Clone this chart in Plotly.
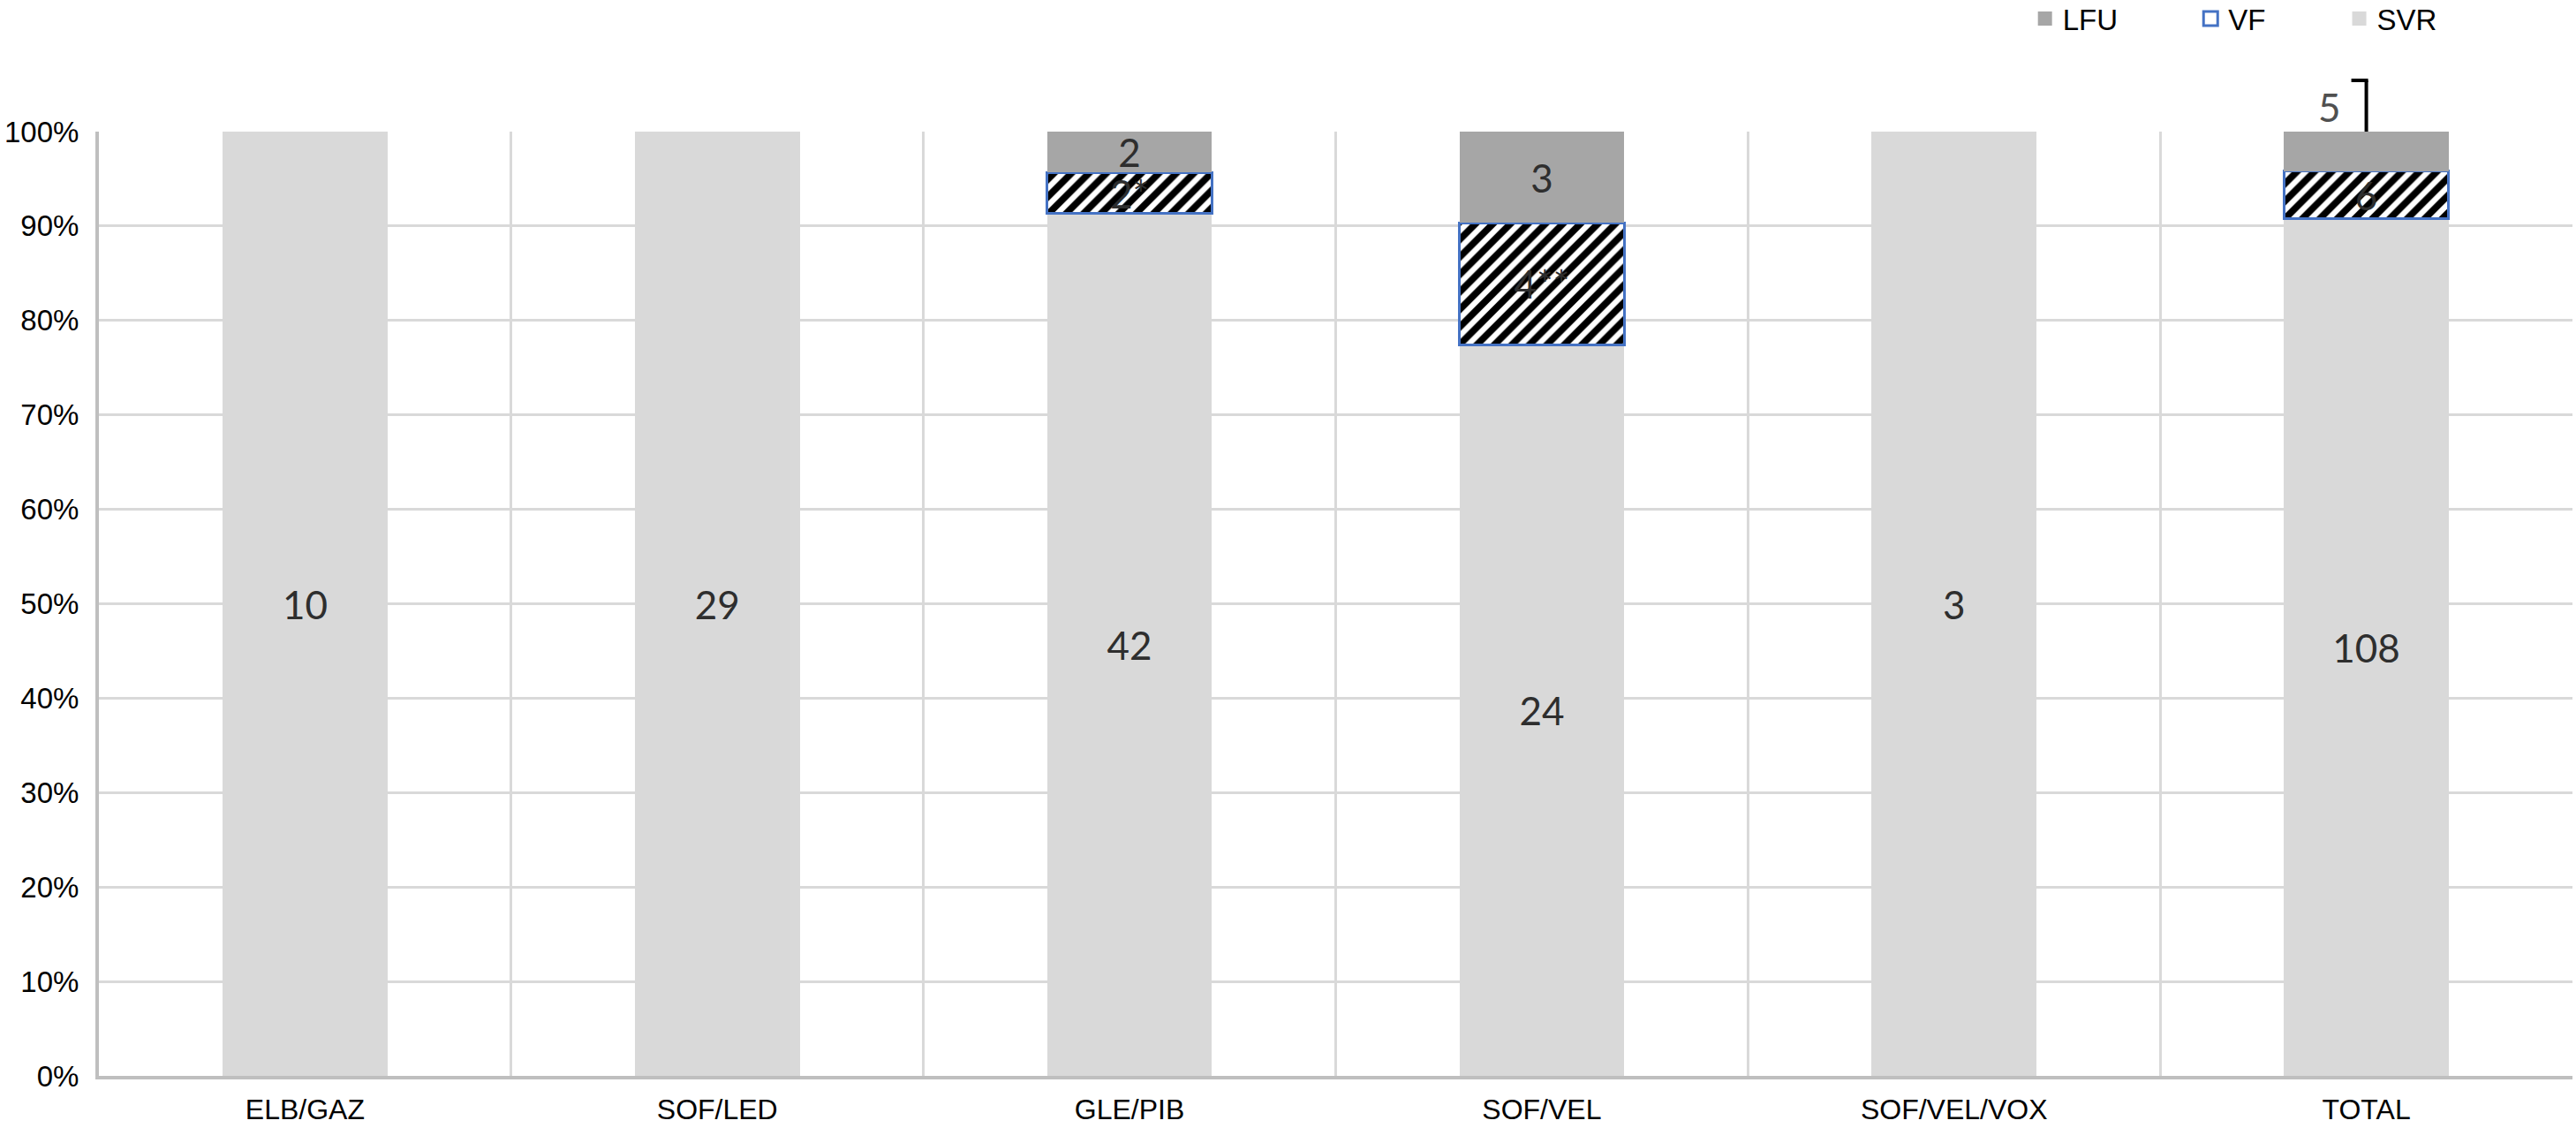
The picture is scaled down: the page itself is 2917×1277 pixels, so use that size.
import plotly.graph_objects as go

# ---------------- data ----------------
categories = ["ELB/GAZ", "SOF/LED", "GLE/PIB", "SOF/VEL", "SOF/VEL/VOX", "TOTAL"]
svr_values = [10, 29, 42, 24, 3, 108]
vf_values = [None, None, 2, 4, None, 6]
lfu_values = [None, None, 2, 3, None, 5]
svr_text = ["10", "29", "42", "24", "3", "108"]
vf_text = ["", "", "2*", "4**", "", "6"]
lfu_text = ["", "", "2", "3", "", ""]
outside_label_category = "TOTAL"
outside_label_text = "5"
y_tick_values = [0, 0.1, 0.2, 0.3, 0.4, 0.5, 0.6, 0.7, 0.8, 0.9, 1.0]
y_tick_labels = ["0%", "10%", "20%", "30%", "40%", "50%", "60%", "70%", "80%", "90%", "100%"]

# ---------------- style ----------------
C_SVR = "#d9d9d9"
C_LFU = "#a6a6a6"
C_VF_LINE = "#4472C4"
GRID = "#d9d9d9"
AXIS = "#bfbfbf"
LABEL_FONT = dict(family="Lato, Liberation Sans, Arial", size=44, color="#2e2e2e")
TICK_FONT = dict(family="Liberation Sans, Arial", size=33, color="black")
XTICK_FONT = dict(family="Liberation Sans, Arial", size=32, color="black")

fig = go.Figure()

common = dict(textposition="inside", insidetextanchor="middle", textangle=0,
              constraintext="none", textfont=LABEL_FONT, showlegend=False,
              hoverinfo="x+y")

fig.add_trace(go.Bar(name="SVR", x=categories, y=svr_values, text=svr_text,
                     marker=dict(color=C_SVR, line=dict(width=0)), **common))
fig.add_trace(go.Bar(name="VF", x=categories, y=vf_values, text=vf_text,
                     marker=dict(color="white", line=dict(color=C_VF_LINE, width=3),
                                 pattern=dict(shape="/", fgcolor="black", bgcolor="white",
                                              size=14, solidity=0.55)),
                     **common))
fig.add_trace(go.Bar(name="LFU", x=categories, y=lfu_values, text=lfu_text,
                     marker=dict(color=C_LFU, line=dict(width=0)), **common))

# legend proxies (one legend each, so they can be placed like the original)
legend_items = [
    ("LFU", dict(color=C_LFU, line=dict(width=0)), "legend", 0.7870),
    ("VF", dict(color="white", line=dict(color=C_VF_LINE, width=3)), "legend2", 0.8513),
    ("SVR", dict(color=C_SVR, line=dict(width=0)), "legend3", 0.9090),
]
for name, mk, lg, _ in legend_items:
    fig.add_trace(go.Scatter(x=[None], y=[None], mode="markers", name=name,
                             marker=dict(symbol="square", size=21, **mk),
                             legend=lg, showlegend=True))

legend_common = dict(orientation="h", xref="container", yref="container",
                     yanchor="middle", y=0.9836, xanchor="left",
                     bgcolor="rgba(0,0,0,0)", borderwidth=0,
                     font=dict(family="Liberation Sans, Arial", size=33, color="black"),
                     itemwidth=30)
layout_legends = {}
for name, mk, lg, xpos in legend_items:
    layout_legends[lg] = dict(x=xpos, **legend_common)

# outside label with leader line for TOTAL LFU
idx = categories.index(outside_label_category)
fig.add_annotation(x=outside_label_category, y=1, xref="x", yref="paper",
                   text=outside_label_text, showarrow=False, xshift=-42, yshift=56,
                   font=dict(family="Lato, Liberation Sans, Arial", size=44, color="#505050"))
fig.add_shape(type="line", xref="x", xsizemode="pixel", xanchor=idx, x0=0, x1=0,
              yref="paper", ysizemode="pixel", yanchor=1, y0=0, y1=58,
              line=dict(color="black", width=4))
fig.add_shape(type="line", xref="x", xsizemode="pixel", xanchor=idx, x0=-17, x1=2,
              yref="paper", ysizemode="pixel", yanchor=1, y0=58, y1=58,
              line=dict(color="black", width=4))

fig.update_layout(
    width=2917, height=1277,
    template="none",
    barmode="stack", barnorm="fraction", bargap=0.6,
    paper_bgcolor="white", plot_bgcolor="white",
    margin=dict(l=112, r=4, t=149, b=59, autoexpand=False),
    **layout_legends,
)
fig.update_xaxes(type="category", categoryorder="array", categoryarray=categories,
                 tickson="boundaries", showgrid=True, gridcolor=GRID, gridwidth=3,
                 showline=True, linecolor=AXIS, linewidth=4, ticks="",
                 tickfont=XTICK_FONT, ticklabelstandoff=7, automargin=False)
fig.update_yaxes(range=[0, 1], tickvals=y_tick_values, ticktext=y_tick_labels,
                 showgrid=True, gridcolor=GRID, gridwidth=3, zeroline=False,
                 showline=True, linecolor=AXIS, linewidth=4, ticks="",
                 tickfont=TICK_FONT, ticklabelstandoff=12, automargin=False)

fig.write_html("out.html", config={"displayModeBar": False},
               post_script="document.body.style.margin='0px';document.body.style.overflow='hidden';")
